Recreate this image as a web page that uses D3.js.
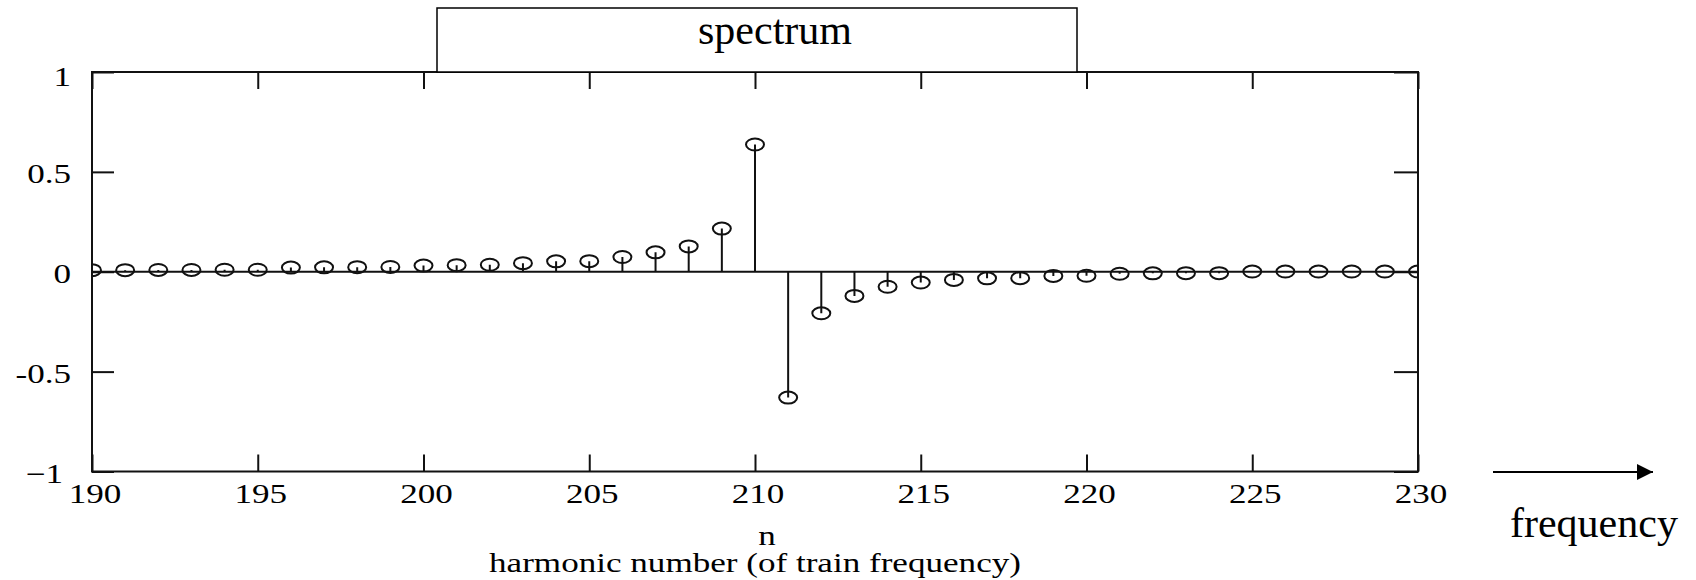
<!DOCTYPE html>
<html>
<head>
<meta charset="utf-8">
<script src="https://cdn.jsdelivr.net/npm/d3@7/dist/d3.min.js"></script>
<style>
  body { margin: 0; background: #fff; }
  text { fill: #000; }
</style>
</head>
<body>
<div id="chart"></div>
<script>
var harmonics = [190, 191, 192, 193, 194, 195, 196, 197, 198, 199,
                 200, 201, 202, 203, 204, 205, 206, 207, 208, 209,
                 210, 211, 212, 213, 214, 215, 216, 217, 218, 219,
                 220, 221, 222, 223, 224, 225, 226, 227, 228, 229, 230];
var amplitude = [0.008, 0.008, 0.009, 0.009, 0.010, 0.010, 0.021, 0.022, 0.023, 0.024,
                 0.031, 0.033, 0.035, 0.043, 0.052, 0.053, 0.074, 0.097, 0.127, 0.216,
                 0.637, -0.630, -0.208, -0.121, -0.075, -0.054, -0.041, -0.033, -0.032, -0.021,
                 -0.020, -0.010, -0.008, -0.007, -0.007, 0.001, 0.001, 0.001, 0.001, 0.001, 0.001];
var xTickValues = [190, 195, 200, 205, 210, 215, 220, 225, 230];
var yTickValues = [-1, -0.5, 0, 0.5, 1];
var yTickLabels = ['\u22121', '-0.5', '0', '0.5', '1'];
var titleText = 'spectrum';
var xVarText = 'n';
var xLabelText = 'harmonic number (of train frequency)';
var arrowText = 'frequency';

var width = 1696, height = 580;
var plot = { left: 92, right: 1418, top: 72, bottom: 471.5 };
// the plot's own text looks horizontally stretched
var stretch = 1.3;
var plotFont = '"Liberation Serif", "Times New Roman", serif';

var svg = d3.select('#chart').append('svg')
  .attr('width', width)
  .attr('height', height);

var x = d3.scaleLinear().domain([190, 230]).range([plot.left, plot.right]);
var y = d3.scaleLinear().domain([-1, 1]).range([plot.bottom, plot.top]);

svg.append('clipPath').attr('id', 'plotclip')
  .append('rect')
  .attr('x', plot.left).attr('y', plot.top)
  .attr('width', plot.right - plot.left).attr('height', plot.bottom - plot.top);

// bottom axis, ticks pointing in
var xAxis = svg.append('g')
  .attr('transform', 'translate(0,' + plot.bottom + ')')
  .call(d3.axisBottom(x).tickValues(xTickValues).tickSizeInner(-17).tickSizeOuter(0).tickPadding(12).tickFormat(d3.format('d')));
xAxis.select('.domain').remove();
xAxis.selectAll('line').attr('stroke', '#111').attr('stroke-width', 2);
xAxis.selectAll('text')
  .attr('font-family', plotFont).attr('font-size', 27).attr('fill', '#111')
  .attr('x', 2)
  .attr('transform', 'scale(' + stretch + ',1)');

// top axis, ticks only
var xTop = svg.append('g')
  .attr('transform', 'translate(0,' + plot.top + ')')
  .call(d3.axisTop(x).tickValues(xTickValues).tickSizeInner(-17).tickSizeOuter(0).tickFormat(''));
xTop.select('.domain').remove();
xTop.selectAll('line').attr('stroke', '#111').attr('stroke-width', 2);

// left axis
var yAxis = svg.append('g')
  .attr('transform', 'translate(' + plot.left + ',0)')
  .call(d3.axisLeft(y).tickValues(yTickValues).tickSizeInner(-22).tickSizeOuter(0)
    .tickFormat(function(d, i) { return yTickLabels[i]; }));
yAxis.select('.domain').remove();
yAxis.selectAll('line').attr('stroke', '#111').attr('stroke-width', 2);
yAxis.selectAll('text')
  .attr('font-family', plotFont).attr('font-size', 27).attr('fill', '#111')
  .attr('x', function(d) { return (d === -1 ? -29 : -21) / stretch; })
  .attr('dy', function(d) { return d === 1 ? '0.5em' : '0.4em'; })
  .attr('transform', 'scale(' + stretch + ',1)');

// right axis, ticks only
var yRight = svg.append('g')
  .attr('transform', 'translate(' + plot.right + ',0)')
  .call(d3.axisRight(y).tickValues(yTickValues).tickSizeInner(-24).tickSizeOuter(0).tickFormat(''));
yRight.select('.domain').remove();
yRight.selectAll('line').attr('stroke', '#111').attr('stroke-width', 2);

// frame
svg.append('rect')
  .attr('x', plot.left).attr('y', plot.top)
  .attr('width', plot.right - plot.left).attr('height', plot.bottom - plot.top)
  .attr('fill', 'none').attr('stroke', '#111').attr('stroke-width', 2);

// zero line
svg.append('line')
  .attr('x1', plot.left).attr('x2', plot.right)
  .attr('y1', y(0)).attr('y2', y(0))
  .attr('stroke', '#111').attr('stroke-width', 2);

var data = harmonics.map(function(n, i) { return { n: n, v: amplitude[i] }; });

var marks = svg.append('g').attr('clip-path', 'url(#plotclip)');

marks.selectAll('.stem').data(data).enter().append('line')
  .attr('class', 'stem')
  .attr('x1', function(d) { return x(d.n); })
  .attr('x2', function(d) { return x(d.n); })
  .attr('y1', y(0))
  .attr('y2', function(d) { return y(d.v); })
  .attr('stroke', '#111').attr('stroke-width', 2);

marks.selectAll('.dot').data(data).enter().append('ellipse')
  .attr('class', 'dot')
  .attr('cx', function(d) { return x(d.n); })
  .attr('cy', function(d) { return y(d.v); })
  .attr('rx', 9).attr('ry', 6)
  .attr('fill', 'none').attr('stroke', '#111').attr('stroke-width', 2);

// axis title
svg.append('text')
  .attr('transform', 'translate(767,545) scale(' + stretch + ',1)')
  .attr('text-anchor', 'middle')
  .attr('font-family', plotFont).attr('font-size', 27).attr('fill', '#111')
  .text(xVarText);
svg.append('text')
  .attr('transform', 'translate(755,572) scale(' + stretch + ',1)')
  .attr('text-anchor', 'middle')
  .attr('font-family', plotFont).attr('font-size', 27).attr('fill', '#111')
  .text(xLabelText);

// title box
svg.append('rect')
  .attr('x', 437).attr('y', 8)
  .attr('width', 640).attr('height', plot.top - 8)
  .attr('fill', '#fff').attr('stroke', '#000').attr('stroke-width', 1.5);
svg.append('text')
  .attr('x', 698).attr('y', 44)
  .attr('font-family', plotFont).attr('font-size', 42)
  .text(titleText);

// frequency arrow
svg.append('defs').append('marker')
  .attr('id', 'head')
  .attr('viewBox', '0 0 10 10')
  .attr('refX', 10).attr('refY', 5)
  .attr('markerWidth', 16).attr('markerHeight', 16)
  .attr('markerUnits', 'userSpaceOnUse')
  .attr('orient', 'auto')
  .append('path').attr('d', 'M0,0 L10,5 L0,10 Z').attr('fill', '#000');
svg.append('line')
  .attr('x1', 1493).attr('x2', 1653)
  .attr('y1', 472).attr('y2', 472)
  .attr('stroke', '#000').attr('stroke-width', 2)
  .attr('marker-end', 'url(#head)');
svg.append('text')
  .attr('x', 1510).attr('y', 537)
  .attr('font-family', plotFont).attr('font-size', 42)
  .text(arrowText);
</script>
</body>
</html>
